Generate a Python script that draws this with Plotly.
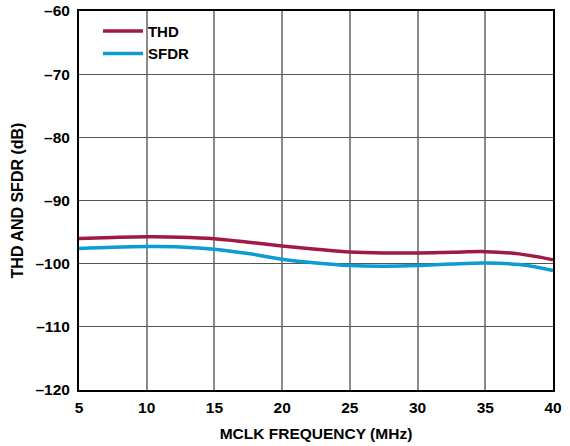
import plotly.graph_objects as go

# MCLK frequency (MHz) and measured distortion (dB)
mclk_mhz = [5, 7.5, 10, 12.5, 15, 17.5, 20, 22.5, 25, 27.5, 30, 32.5, 35, 37.5, 40]
thd_db = [-96.0, -95.85, -95.75, -95.8, -96.05, -96.6, -97.2, -97.7, -98.15, -98.3, -98.3, -98.2, -98.1, -98.45, -99.4]
sfdr_db = [-97.6, -97.4, -97.3, -97.35, -97.7, -98.4, -99.3, -99.9, -100.3, -100.4, -100.3, -100.05, -99.9, -100.15, -101.1]

x_ticks = [5, 10, 15, 20, 25, 30, 35, 40]
y_ticks = [-120, -110, -100, -90, -80, -70, -60]
y_tick_text = ["\u2013" + str(abs(v)) for v in y_ticks]

FONT = "Liberation Sans, Arial, sans-serif"


def bold(size):
    return dict(family=FONT, size=size, color="black", weight="bold")


fig = go.Figure()
fig.add_trace(go.Scatter(x=mclk_mhz, y=thd_db, mode="lines", name="THD",
                         line=dict(color="#A01A45", width=3.5, shape="spline", smoothing=1.0)))
fig.add_trace(go.Scatter(x=mclk_mhz, y=sfdr_db, mode="lines", name="SFDR",
                         line=dict(color="#0A9CD3", width=3.5, shape="spline", smoothing=1.0)))

fig.update_layout(
    width=570, height=446,
    margin=dict(l=79, r=17, t=11, b=56),
    paper_bgcolor="white", plot_bgcolor="white",
    font=bold(15),
    showlegend=True,
    legend=dict(x=0.04, y=0.99, xanchor="left", yanchor="top",
                bgcolor="rgba(0,0,0,0)", font=bold(15),
                itemwidth=40, tracegroupgap=0),
    xaxis=dict(range=[5, 40], tickvals=x_ticks, ticktext=[str(v) for v in x_ticks],
               showgrid=True, gridcolor="#8a8a8a", gridwidth=1.5,
               showline=True, linecolor="black", linewidth=2, mirror=True,
               ticks="", zeroline=False, ticklabelstandoff=2, automargin=False,
               tickfont=bold(15.5),
               title=dict(text="MCLK FREQUENCY (MHz)", standoff=14, font=bold(15.5))),
    yaxis=dict(range=[-120, -60], tickvals=y_ticks, ticktext=y_tick_text,
               showgrid=True, gridcolor="#555555", gridwidth=1,
               showline=True, linecolor="black", linewidth=2, mirror=True,
               ticks="", zeroline=False, ticklabelstandoff=4, automargin=False,
               tickfont=bold(15.5),
               title=dict(text="THD AND SFDR (dB)", standoff=8, font=bold(16))),
)

fig.write_html("out.html")
